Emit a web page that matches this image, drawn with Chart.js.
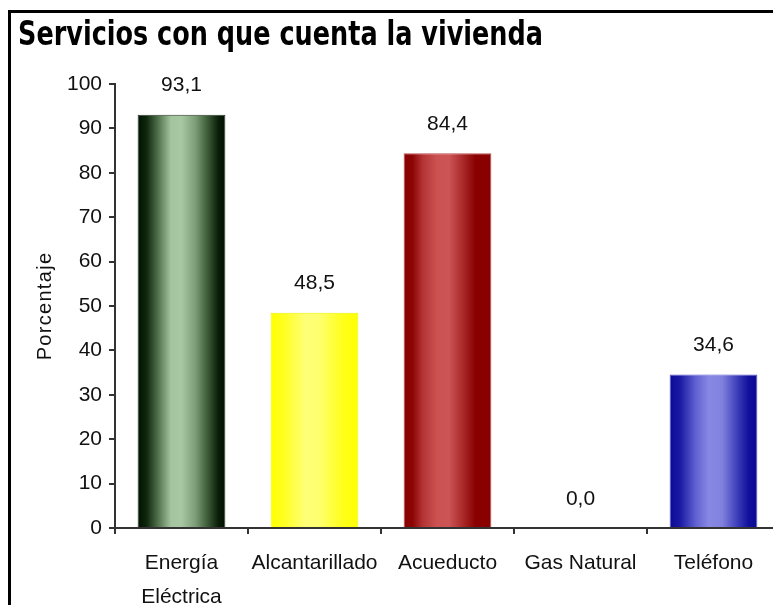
<!DOCTYPE html>
<html>
<head>
<meta charset="utf-8">
<script src="https://cdn.jsdelivr.net/npm/chart.js@4/dist/chart.umd.min.js"></script>
<style>
  html, body { margin: 0; padding: 0; background: #fff; overflow: hidden; width: 773px; height: 605px; }
  #frame { position: absolute; left: 8px; top: 10px; width: 900px; height: 800px; border-left: 3px solid #000; border-top: 3px solid #000; box-sizing: border-box; }
  #wrap { position: absolute; left: 0; top: 0; width: 790px; height: 620px; }
</style>
</head>
<body>
<div id="frame"></div>
<div id="wrap"><canvas id="c" width="790" height="620"></canvas></div>
<script>
const titleText = "Servicios con que cuenta la vivienda";
const yAxisTitle = "Porcentaje";
const categories = [["Energía", "Eléctrica"], "Alcantarillado", "Acueducto", "Gas Natural", "Teléfono"];
const values = [93.1, 48.5, 84.4, 0.0, 34.6];
const yTicks = [0, 10, 20, 30, 40, 50, 60, 70, 80, 90, 100];
// gradient stops per bar: [position, colour]
const barGradients = [
  [[0, "#001200"], [0.1, "#0e260c"], [0.22, "#4a6a46"], [0.38, "#a4c4a0"], [0.5, "#a8c8a4"], [0.66, "#7c9c78"], [0.8, "#3a5a36"], [0.92, "#0a1e08"], [1, "#001000"]],
  [[0, "#ffff00"], [0.15, "#ffff20"], [0.4, "#ffff78"], [0.55, "#ffff70"], [0.8, "#ffff20"], [1, "#ffff00"]],
  [[0, "#880000"], [0.1, "#8c0404"], [0.22, "#b43434"], [0.38, "#cc5252"], [0.52, "#cc5454"], [0.68, "#a82828"], [0.82, "#8a0000"], [1, "#880000"]],
  [[0, "#999999"], [1, "#999999"]],
  [[0, "#0a0a96"], [0.12, "#1a1aa4"], [0.3, "#6262d2"], [0.45, "#8888e4"], [0.6, "#8080de"], [0.78, "#3a3ab8"], [0.9, "#10109c"], [1, "#0a0a94"]]
];
const barBorders = ["#2a3a2a", "#f0f000", "#c04a4a", "#999999", "#5a5ad0"];

const FONT = "'Liberation Sans Narrow', 'Arial Narrow', 'Liberation Sans', Arial, sans-serif";
const BAR_PCT = 0.66;

function barFill(c) {
  const chart = c.chart;
  const xs = chart.scales && chart.scales.x;
  const i = c.dataIndex;
  if (!xs || i === undefined || !xs.width) return barGradients[i || 0][0][1];
  const cx = xs.getPixelForValue(i);
  const w = (xs.width / categories.length) * BAR_PCT;
  const g = chart.ctx.createLinearGradient(cx - w / 2, 0, cx + w / 2, 0);
  barGradients[i].forEach(s => g.addColorStop(s[0], s[1]));
  return g;
}

const labelPlugin = {
  id: 'valueLabels',
  afterDatasetsDraw(chart) {
    const ctx = chart.ctx;
    ctx.save();
    ctx.font = "21px " + FONT;
    ctx.fillStyle = "#111";
    ctx.textAlign = "center";
    ctx.textBaseline = "middle";
    chart.getDatasetMeta(0).data.forEach((el, i) => {
      ctx.fillText(values[i].toFixed(1).replace('.', ','), el.x, el.y - 29);
    });
    ctx.restore();
  }
};

const textPlugin = {
  id: 'texts',
  afterDraw(chart) {
    const ctx = chart.ctx;
    const area = chart.chartArea;
    // chart title, horizontally condensed to the reference width
    ctx.save();
    ctx.font = "bold 33px 'DejaVu Sans Condensed', 'DejaVu Sans', sans-serif";
    ctx.fillStyle = "#000";
    ctx.textAlign = "left";
    ctx.textBaseline = "alphabetic";
    const tw = ctx.measureText(titleText).width;
    const sx = Math.min(1, 525 / tw);
    ctx.translate(18, 45);
    ctx.scale(sx, 1);
    ctx.fillText(titleText, 0, 0);
    ctx.restore();
    // y axis title
    ctx.save();
    ctx.translate(45, (area.top + area.bottom) / 2);
    ctx.rotate(-Math.PI / 2);
    ctx.font = "20px 'Liberation Sans', Arial, sans-serif";
    ctx.fillStyle = "#111";
    ctx.textAlign = "center";
    ctx.textBaseline = "middle";
    if ('letterSpacing' in ctx) ctx.letterSpacing = "1.3px";
    ctx.fillText(yAxisTitle, 0, 0);
    ctx.restore();
  }
};

new Chart(document.getElementById('c'), {
  type: 'bar',
  data: {
    labels: categories,
    datasets: [{
      data: values,
      backgroundColor: barFill,
      borderColor: (c) => barBorders[c.dataIndex || 0],
      borderWidth: 1,
      categoryPercentage: 1.0,
      barPercentage: BAR_PCT
    }]
  },
  options: {
    responsive: false,
    animation: false,
    events: [],
    layout: { padding: { left: 18, top: 84, right: 10, bottom: 0 } },
    plugins: {
      legend: { display: false },
      tooltip: { enabled: false },
      title: { display: false }
    },
    scales: {
      x: {
        offset: true,
        grid: { display: true, offset: true, drawOnChartArea: false, drawTicks: true, tickLength: 6, color: '#333', lineWidth: 2 },
        border: { display: true, color: '#333', width: 2 },
        ticks: { color: '#111', padding: 12, maxRotation: 0, autoSkip: false, font: { family: FONT, size: 21, lineHeight: 1.62 } },
        afterFit(scale) { scale.height = 92; }
      },
      y: {
        min: 0, max: 100,
        afterBuildTicks(scale) { scale.ticks = yTicks.map(v => ({ value: v })); },
        grid: { display: true, drawOnChartArea: false, drawTicks: true, tickLength: 6, color: '#333', lineWidth: 2 },
        border: { display: true, color: '#333', width: 2 },
        ticks: { color: '#111', padding: 7, font: { family: FONT, size: 21 } },
        afterFit(scale) { scale.width = 97; }
      }
    }
  },
  plugins: [labelPlugin, textPlugin]
});
</script>
</body>
</html>
